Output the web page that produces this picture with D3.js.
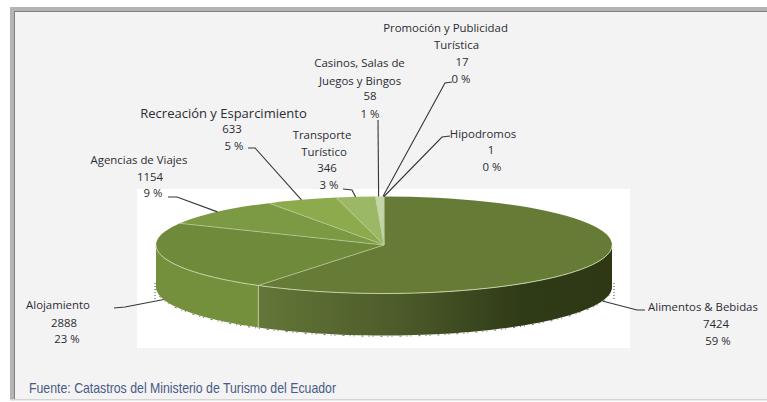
<!DOCTYPE html>
<html>
<head>
<meta charset="utf-8">
<script src="https://cdnjs.cloudflare.com/ajax/libs/d3/7.8.5/d3.min.js"></script>
<style>
  html, body { margin: 0; padding: 0; background: #fff; }
  svg { display: block; }
  text { font-family: "Open Sans", "Noto Sans", sans-serif; fill: #2c2c34; }
</style>
</head>
<body>
<div id="chart"></div>
<script>
// values
const categories = ['Alimentos & Bebidas', 'Alojamiento', 'Agencias de Viajes', 'Recreación y Esparcimiento',
    'Transporte Turístico', 'Casinos, Salas de Juegos y Bingos', 'Promoción y Publicidad Turística', 'Hipodromos'];
const values = [7424, 2888, 1154, 633, 346, 58, 17, 1];
const percents = ['59 %', '23 %', '9 %', '5 %', '3 %', '1 %', '0 %', '0 %'];
const topColors = ['#667c36', '#708a3b', '#7c9943', '#8dab4c', '#9ab865', '#c3d6a6', '#cfe0ba', '#dbe8cc'];
const sourceText = 'Fuente: Catastros del Ministerio de Turismo del Ecuador';

const w = 767, h = 402;
const cx = 384, cy = 245, rx = 228, ry = 48.5, depth = 42;

// label lines [text, centre x, baseline y, size] and leader elbows, one entry per category
const labelLayout = [
    { lines: [[categories[0], 703, 311], [values[0], 716, 328], [percents[0], 718, 345]], leader: [[645, 310], [637, 310]] },
    { lines: [[categories[1], 58, 309], [values[1], 64, 327], [percents[1], 67, 343]], leader: [[114, 308], [125, 307]] },
    { lines: [[categories[2], 139, 164], [values[2], 150, 181], [percents[2], 153, 197]], leader: [[168, 197], [177, 197]] },
    { lines: [[categories[3], 223.5, 118, 13], [values[3], 232, 133], [percents[3], 234, 150]], leader: [[248, 148], [255, 148]] },
    { lines: [['Transporte', 322, 139], ['Turístico', 324, 156], [values[4], 327, 172], [percents[4], 329, 189]], leader: [[343, 189], [352, 190]] },
    { lines: [['Casinos, Salas de', 359.5, 67], ['Juegos y Bingos', 360, 85], [values[5], 370, 100], [percents[5], 370, 118]], leader: [[378, 120]] },
    { lines: [['Promoción y Publicidad', 445.5, 32], ['Turística', 456.5, 49], [values[6], 462, 66], [percents[6], 461, 83]], leader: [[452, 82], [445, 83]] },
    { lines: [[categories[7], 483, 138], [values[7], 491, 154], [percents[7], 492, 171]], leader: [[450, 136], [442, 137]] }
];

const svg = d3.select('#chart').append('svg').attr('width', w).attr('height', h);

// frame
svg.append('rect').attr('x', 10).attr('y', 7).attr('width', w - 10).attr('height', 392).attr('fill', '#b4b4b4');
svg.append('rect').attr('x', 14).attr('y', 11).attr('width', w - 14).attr('height', 388).attr('fill', '#7f7f7f');
svg.append('rect').attr('x', 15).attr('y', 12).attr('width', w - 15).attr('height', 387).attr('fill', '#f3f3f3');
svg.append('rect').attr('x', 10).attr('y', 399).attr('width', w - 10).attr('height', 1.5).attr('fill', '#d5d5d5');
svg.append('rect').attr('x', 137).attr('y', 189).attr('width', 493).attr('height', 159).attr('fill', '#fff');

const defs = svg.append('defs');
const grad = defs.append('linearGradient').attr('id', 'sideDark');
grad.append('stop').attr('offset', '0%').attr('stop-color', '#647638');
grad.append('stop').attr('offset', '40%').attr('stop-color', '#4c5b2a');
grad.append('stop').attr('offset', '75%').attr('stop-color', '#2f3a17');
grad.append('stop').attr('offset', '100%').attr('stop-color', '#2e3815');

const pie = d3.pie().sort(null).value(d => d);
const slices = pie(values);

// angle (clockwise from the top) to the flattened rim
const rimX = a => cx + rx * Math.sin(a);
const rimY = a => cy - ry * Math.cos(a);
const angleSteps = (a0, a1) => d3.range(0, 61).map(i => a0 + (a1 - a0) * i / 60);

const sideLine = d3.line();
function sidePath(a0, a1) {
    const steps = angleSteps(a0, a1);
    const upper = steps.map(a => [rimX(a), rimY(a)]);
    const lower = steps.slice().reverse().map(a => [rimX(a), rimY(a) + depth]);
    return sideLine(upper.concat(lower)) + 'Z';
}

// rough speckle the original has below the pie
svg.append('path')
    .attr('d', sideLine(angleSteps(Math.PI * 0.55, Math.PI * 1.5).map(a => [rimX(a), rimY(a) + depth + 0.8])))
    .attr('fill', 'none')
    .attr('stroke', '#3d3d35')
    .attr('stroke-width', 1)
    .attr('stroke-dasharray', '1,5,2,7,1,3')
    .attr('opacity', 0.75);
[[rimX(Math.PI * 1.5) - 1, cy + 38, cy + 54], [rimX(Math.PI / 2) + 2, cy + 38, cy + 54]].forEach(d => {
    svg.append('line')
        .attr('x1', d[0]).attr('y1', d[1]).attr('x2', d[0]).attr('y2', d[2])
        .attr('stroke', '#66665e').attr('stroke-width', 2).attr('stroke-dasharray', '1,2').attr('opacity', 0.6);
});

// front wall, only the part of each slice facing the viewer
const front = svg.append('g');
slices.forEach((s, i) => {
    const a0 = Math.max(s.startAngle, Math.PI / 2);
    const a1 = Math.min(s.endAngle, Math.PI * 1.5);
    if (a1 <= a0) return;
    front.append('path')
        .attr('d', sidePath(a0, a1))
        .attr('fill', i === 0 ? 'url(#sideDark)' : '#75903c');
    if (i > 0) {
        front.append('line')
            .attr('x1', rimX(a0)).attr('y1', rimY(a0))
            .attr('x2', rimX(a0)).attr('y2', rimY(a0) + depth)
            .attr('stroke', '#b9c99a').attr('stroke-width', 1);
    }
});

// top face: a d3 arc squashed into an ellipse
const arc = d3.arc().innerRadius(0).outerRadius(rx);
svg.append('g')
    .attr('transform', 'translate(' + cx + ',' + cy + ') scale(1,' + (ry / rx) + ')')
    .selectAll('path')
    .data(slices)
    .join('path')
    .attr('d', arc)
    .attr('fill', (d, i) => topColors[i]);

// pale lines between slices and along the front rim
svg.append('g').selectAll('line')
    .data(slices)
    .join('line')
    .attr('x1', cx).attr('y1', cy)
    .attr('x2', d => rimX(d.startAngle)).attr('y2', d => rimY(d.startAngle))
    .attr('stroke', '#bccc9c')
    .attr('stroke-width', 0.9)
    .attr('opacity', (d, i) => i === 0 ? 0.9 : 0.8);
svg.append('path')
    .attr('d', sideLine(angleSteps(Math.PI / 2, Math.PI * 1.5).map(a => [rimX(a), rimY(a)])))
    .attr('fill', 'none')
    .attr('stroke', '#c2d0a2')
    .attr('stroke-width', 1);

// leader lines end on the rim at the middle of each slice
const leader = d3.line();
slices.forEach((s, i) => {
    const mid = (s.startAngle + s.endAngle) / 2;
    const onFront = Math.cos(mid) < 0;
    const end = [rimX(mid), rimY(mid) + (onFront ? depth : 0)];
    svg.append('path')
        .attr('d', leader(labelLayout[i].leader.concat([end])))
        .attr('fill', 'none')
        .attr('stroke', '#33363a')
        .attr('stroke-width', 1.1);
});

// labels
labelLayout.forEach(l => {
    l.lines.forEach(t => {
        svg.append('text')
            .attr('x', t[1]).attr('y', t[2])
            .attr('text-anchor', 'middle')
            .style('font-size', (t[3] || 11.4) + 'px')
            .text(t[0]);
    });
});

svg.append('text')
    .attr('x', 29).attr('y', 393)
    .attr('textLength', 307).attr('lengthAdjust', 'spacingAndGlyphs')
    .style('font-family', '"Liberation Sans", Arial, sans-serif')
    .style('font-size', '15px')
    .style('fill', '#4a5a85')
    .text(sourceText);
</script>
</body>
</html>
